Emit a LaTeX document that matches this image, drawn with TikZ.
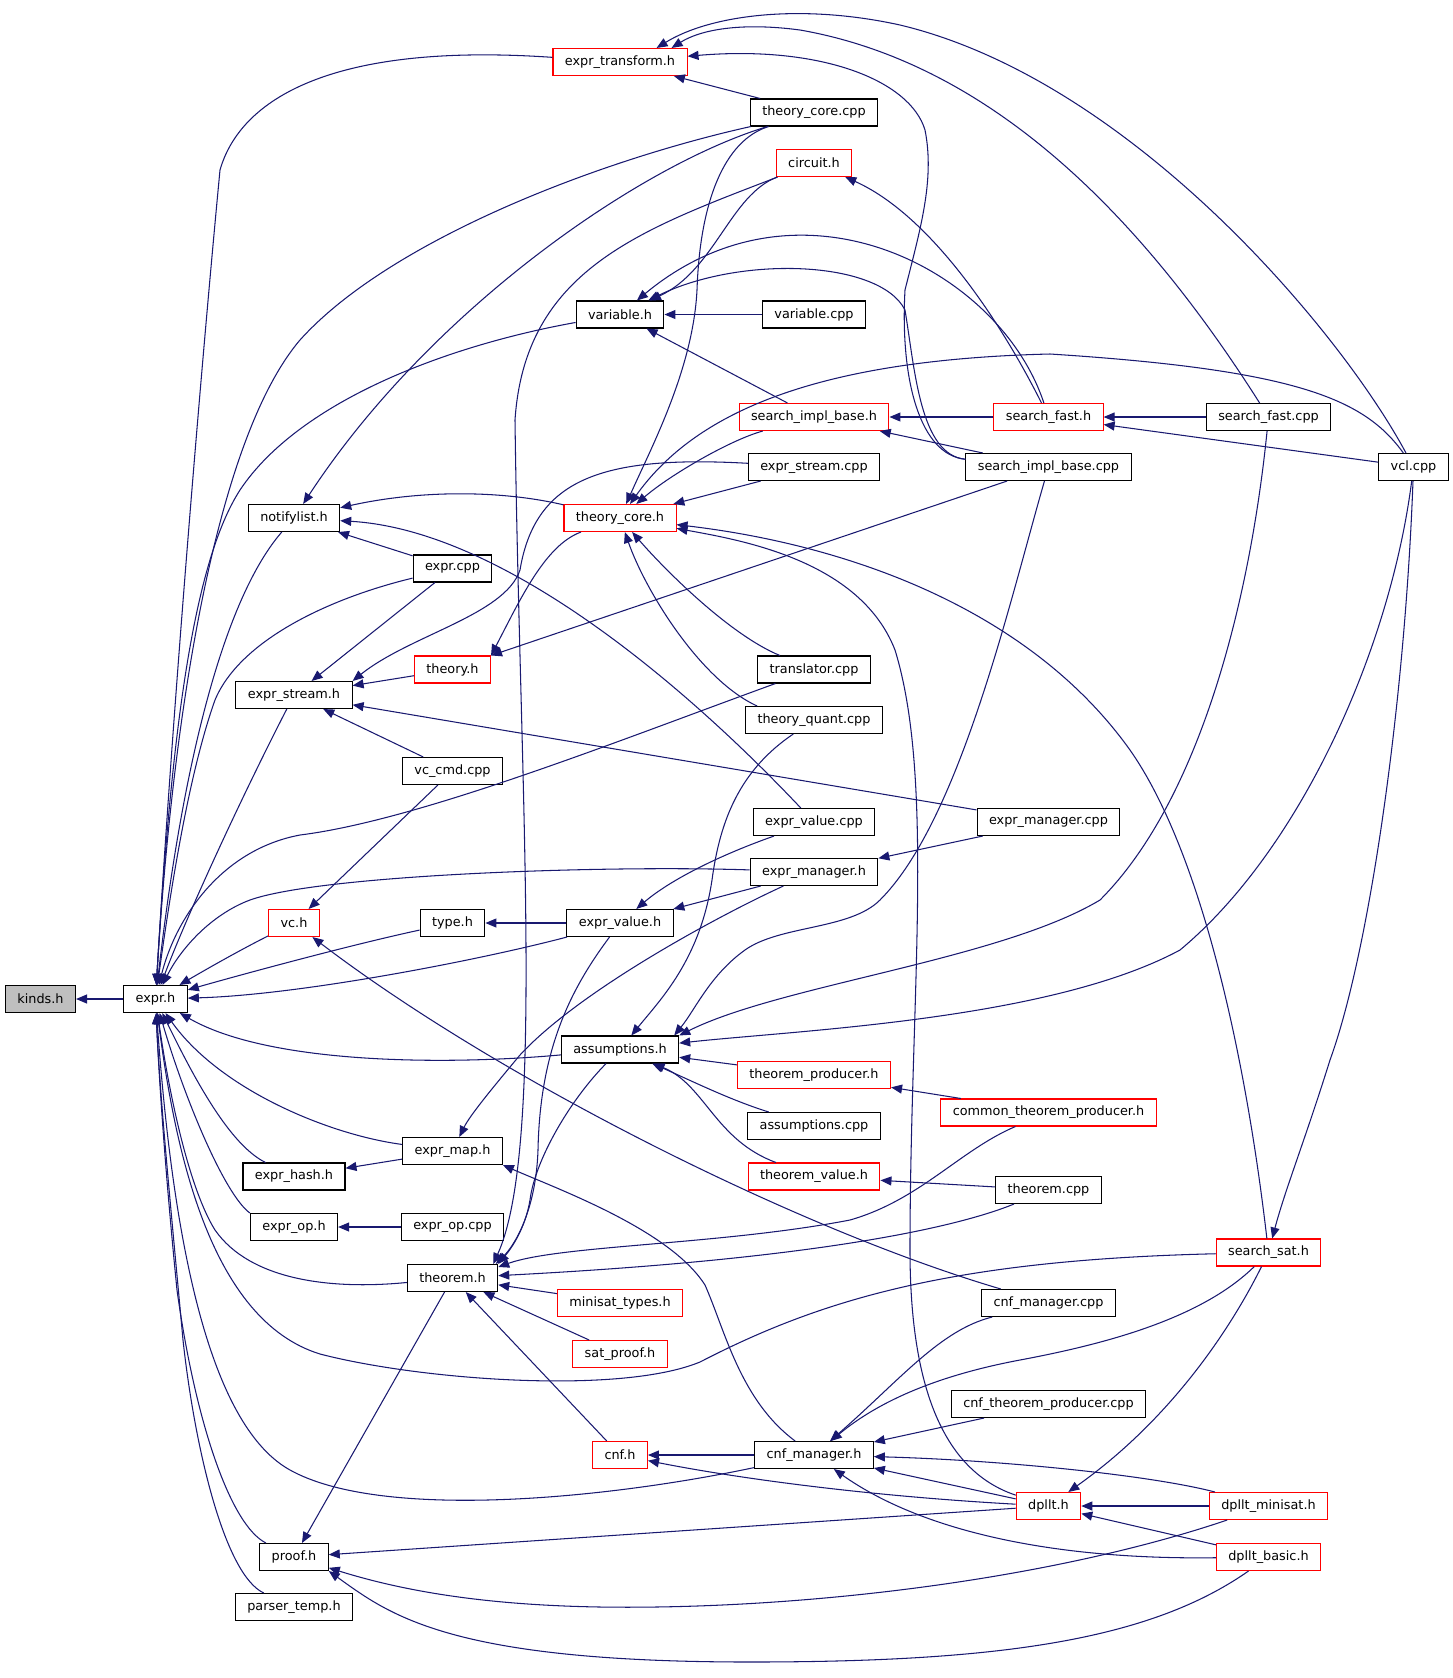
\documentclass[tikz,border=0pt]{standalone}
\usepackage{fontspec}
\newfontfamily\graphfont{DejaVu Sans}
\usetikzlibrary{arrows.meta}
\definecolor{edgeblue}{HTML}{191970}
\definecolor{hdrred}{HTML}{FF0000}
\definecolor{rootgray}{HTML}{BFBFBF}
\begin{document}
\begin{tikzpicture}[x=0.02cm,y=-0.02cm,
  file/.style={draw=black,line width=0.6pt,inner xsep=6.8pt,inner ysep=0pt,minimum height=0.54cm,font=\graphfont\fontsize{7.3}{8.8}\selectfont},
  redfile/.style={file,draw=hdrred},
  rootfile/.style={file,fill=rootgray},
  inc/.style={color=edgeblue,line width=0.6pt,-{Triangle[length=0.22cm,width=0.18cm]}}]
\useasboundingbox (0,0) rectangle (1453,1678);
\node[rootfile] (kinds) at (40.5,999) {kinds.h};
\node[file] (expr) at (155.5,999) {expr.h};
\node[redfile] (exprtrans) at (620,62) {expr\_transform.h};
\node[file] (tccpp) at (814,112.5) {theory\_core.cpp};
\node[redfile] (circuit) at (814,163) {circuit.h};
\node[file] (variable) at (620,314.5) {variable.h};
\node[file] (variablecpp) at (814,314.5) {variable.cpp};
\node[redfile] (sibh) at (814,417) {search\_impl\_base.h};
\node[redfile] (sfh) at (1048.5,417) {search\_fast.h};
\node[file] (sfcpp) at (1268.5,417) {search\_fast.cpp};
\node[file] (escpp) at (814,467) {expr\_stream.cpp};
\node[file] (sibcpp) at (1048.5,467) {search\_impl\_base.cpp};
\node[file] (vcl) at (1413.5,467) {vcl.cpp};
\node[file] (notifylist) at (294,518) {notifylist.h};
\node[redfile] (tch) at (620,518) {theory\_core.h};
\node[file] (exprcpp) at (452.5,568.5) {expr.cpp};
\node[redfile] (theory) at (452.5,669.5) {theory.h};
\node[file] (translator) at (814,669.5) {translator.cpp};
\node[file] (esh) at (294,695) {expr\_stream.h};
\node[file] (tquant) at (814,720) {theory\_quant.cpp};
\node[file] (vccmd) at (452.5,771) {vc\_cmd.cpp};
\node[file] (evcpp) at (814,822) {expr\_value.cpp};
\node[file] (emcpp) at (1048.5,822) {expr\_manager.cpp};
\node[file] (emh) at (814,872) {expr\_manager.h};
\node[redfile] (vch) at (294,923) {vc.h};
\node[file] (typeh) at (452.5,923) {type.h};
\node[file] (evh) at (620,923) {expr\_value.h};
\node[file] (assump) at (620,1049.5) {assumptions.h};
\node[redfile] (tprod) at (814,1075) {theorem\_producer.h};
\node[redfile] (ctprod) at (1048.5,1112.5) {common\_theorem\_producer.h};
\node[file] (assumpcpp) at (814,1126) {assumptions.cpp};
\node[file] (exprmap) at (452.5,1151) {expr\_map.h};
\node[file] (exprhash) at (294,1176.5) {expr\_hash.h};
\node[redfile] (tvalue) at (814,1176.5) {theorem\_value.h};
\node[file] (theoremcpp) at (1048.5,1190) {theorem.cpp};
\node[file] (exprop) at (294,1227) {expr\_op.h};
\node[file] (expropcpp) at (452.5,1227) {expr\_op.cpp};
\node[redfile] (searchsat) at (1268.5,1252.5) {search\_sat.h};
\node[file] (theorem) at (452.5,1278) {theorem.h};
\node[redfile] (minisat) at (620,1303) {minisat\_types.h};
\node[file] (cnfmcpp) at (1048.5,1303) {cnf\_manager.cpp};
\node[redfile] (satproof) at (620,1354) {sat\_proof.h};
\node[file] (cnftpcpp) at (1048.5,1404) {cnf\_theorem\_producer.cpp};
\node[redfile] (cnf) at (620,1455) {cnf.h};
\node[file] (cnfm) at (814,1455) {cnf\_manager.h};
\node[redfile] (dpllt) at (1048.5,1506) {dpllt.h};
\node[redfile] (dplltmin) at (1268.5,1506) {dpllt\_minisat.h};
\node[redfile] (dplltbasic) at (1268.5,1557) {dpllt\_basic.h};
\node[file] (proof) at (294,1557) {proof.h};
\node[file] (parser) at (294,1607) {parser\_temp.h};

\draw[inc] (expr) -- (kinds);
\draw[inc] (exprtrans) .. controls (330,42) and (240,100) .. (220,170) .. controls (200,380) and (172,720) .. (expr);
\draw[inc] (tccpp) -- (exprtrans);
\draw[inc] (tccpp) .. controls (600,160) and (390,240) .. (300,340) .. controls (215,440) and (172,720) .. (expr);
\draw[inc] (tccpp) .. controls (640,165) and (430,310) .. (notifylist);
\draw[inc] (tccpp) .. controls (725,140) and (700,200) .. (697,290) .. controls (693,370) and (650,450) .. (tch);
\draw[inc] (circuit) .. controls (730,195) and (715,270) .. (variable);
\draw[inc] (circuit) .. controls (640,230) and (525,270) .. (515,420) .. controls (520,800) and (545,1150) .. ([xshift=-0.1cm]theorem.north east);
\draw[inc] (sfh) .. controls (1000,320) and (930,215) .. (circuit);
\draw[inc] (variable) .. controls (450,345) and (300,400) .. (240,490) .. controls (195,560) and (172,720) .. (expr);
\draw[inc] (variablecpp) -- (variable);
\draw[inc] (sibh) -- (variable);
\draw[inc] (sfh) .. controls (1000,270) and (800,165) .. (variable);
\draw[inc] (sibcpp) .. controls (920,455) and (915,370) .. (905,310) .. controls (880,260) and (740,255) .. (variable);
\draw[inc] (sibcpp) .. controls (920,455) and (900,380) .. (905,290) .. controls (920,230) and (935,180) .. (925,130) .. controls (910,80) and (820,45) .. (exprtrans);
\draw[inc] (sfcpp) .. controls (1150,230) and (1000,65) .. (800,30) .. controls (740,22) and (700,30) .. ([xshift=-0.32cm]exprtrans.north east);
\draw[inc] (vcl) .. controls (1340,330) and (1130,80) .. (900,25) .. controls (800,3) and (710,15) .. ([xshift=-0.62cm]exprtrans.north east);
\draw[inc] (sfh) -- (sibh);
\draw[inc] (sibcpp) -- (sibh);
\draw[inc] (sfcpp) -- (sfh);
\draw[inc] (vcl) -- (sfh);
\draw[inc] (sibh) .. controls (730,440) and (670,475) .. (tch);
\draw[inc] (vcl) .. controls (1365,400) and (1300,370) .. (1050,354) .. controls (800,360) and (690,420) .. (tch);
\draw[inc] (escpp) -- (tch);
\draw[inc] (escpp) .. controls (600,455) and (535,480) .. (520,570) .. controls (505,615) and (410,635) .. (esh.north east);
\draw[inc] (searchsat) .. controls (1245,1050) and (1200,850) .. (1130,750) .. controls (1030,610) and (850,545) .. (tch);
\draw[inc] (dpllt) .. controls (940,1470) and (910,1380) .. (910,1250) .. controls (910,1000) and (935,780) .. (895,650) .. controls (860,560) and (740,540) .. (tch);
\draw[inc] (translator) .. controls (730,635) and (665,570) .. (tch);
\draw[inc] ([xshift=0.24cm]tquant.north west) .. controls (700,680) and (645,590) .. (tch);
\draw[inc] (tch) .. controls (545,545) and (520,600) .. (theory.north east);
\draw[inc] (sibcpp) -- (theory.north east);
\draw[inc] (tch) .. controls (500,490) and (420,490) .. (notifylist);
\draw[inc] (evcpp) .. controls (680,680) and (500,530) .. (notifylist);
\draw[inc] (exprcpp) -- (notifylist);
\draw[inc] (notifylist) .. controls (240,580) and (190,700) .. (expr);
\draw[inc] (exprcpp) .. controls (330,598) and (240,640) .. (215,700) .. controls (190,770) and (172,880) .. (expr);
\draw[inc] (exprcpp) -- (esh);
\draw[inc] (theory) -- (esh);
\draw[inc] (vccmd) -- (esh);
\draw[inc] (emcpp) -- (esh);
\draw[inc] (esh) .. controls (240,800) and (185,920) .. (expr);
\draw[inc] (vccmd) -- (vch);
\draw[inc] (cnfmcpp) .. controls (800,1230) and (500,1080) .. (vch);
\draw[inc] (vch) .. controls (240,950) and (205,970) .. (expr);
\draw[inc] (typeh) .. controls (350,945) and (240,975) .. (expr);
\draw[inc] (evh) -- (typeh);
\draw[inc] (evh) .. controls (480,960) and (300,995) .. (expr);
\draw[inc] (emh) .. controls (600,865) and (320,875) .. (250,900) .. controls (210,915) and (180,950) .. (expr);
\draw[inc] (translator) .. controls (620,740) and (420,820) .. (300,835) .. controls (220,850) and (175,920) .. (expr);
\draw[inc] (evcpp) .. controls (720,855) and (670,880) .. (evh);
\draw[inc] (emh) -- (evh);
\draw[inc] (emcpp) -- (emh);
\draw[inc] (emh) .. controls (720,915) and (580,990) .. (520,1055) .. controls (495,1085) and (470,1115) .. (exprmap);
\draw[inc] (assump) .. controls (450,1065) and (270,1065) .. (expr);
\draw[inc] (tquant) .. controls (740,770) and (720,820) .. (712,880) .. controls (700,960) and (660,1000) .. (assump);
\draw[inc] (sibcpp) .. controls (1010,600) and (960,820) .. (880,900) .. controls (850,930) and (780,925) .. (745,950) .. controls (710,975) and (695,1010) .. ([xshift=-0.1cm]assump.north east);
\draw[inc] (sfcpp) .. controls (1250,600) and (1200,800) .. (1100,900) .. controls (1000,960) and (780,985) .. (assump.north east);
\draw[inc] (vcl) .. controls (1390,650) and (1300,850) .. (1180,950) .. controls (1050,1020) and (800,1030) .. (assump);
\draw[inc] (tprod) -- (assump);
\draw[inc] (assumpcpp) .. controls (730,1100) and (690,1080) .. (assump);
\draw[inc] (tvalue) .. controls (715,1140) and (705,1085) .. (assump);
\draw[inc] (ctprod) -- (tprod);
\draw[inc] (theoremcpp) -- (tvalue);
\draw[inc] (assump) .. controls (570,1100) and (535,1160) .. (530,1200) .. controls (525,1230) and (510,1250) .. (theorem.north east);
\draw[inc] (evh) .. controls (570,990) and (540,1050) .. (538,1150) .. controls (536,1210) and (515,1245) .. ([xshift=-0.05cm]theorem.north east);
\draw[inc] (ctprod) .. controls (960,1150) and (920,1200) .. (850,1220) .. controls (720,1245) and (560,1245) .. ([yshift=-0.06cm]theorem.north east);
\draw[inc] (theoremcpp) .. controls (950,1230) and (800,1260) .. (theorem);
\draw[inc] (minisat) -- (theorem);
\draw[inc] (satproof) -- (theorem);
\draw[inc] (cnf) -- (theorem);
\draw[inc] (theorem) .. controls (330,1290) and (250,1280) .. (215,1230) .. controls (190,1190) and (170,1100) .. (expr);
\draw[inc] (theorem) -- (proof);
\draw[inc] (searchsat) .. controls (950,1260) and (820,1300) .. (700,1362) .. controls (620,1395) and (420,1380) .. (320,1354) .. controls (210,1320) and (175,1150) .. (expr);
\draw[inc] (exprmap) .. controls (330,1135) and (220,1090) .. (expr);
\draw[inc] (exprmap) -- (exprhash);
\draw[inc] (exprhash) .. controls (230,1145) and (195,1080) .. (expr);
\draw[inc] (exprop.north west) .. controls (225,1195) and (185,1100) .. (expr);
\draw[inc] (expropcpp) -- (exprop);
\draw[inc] (cnfm) .. controls (740,1400) and (725,1330) .. (705,1285) .. controls (670,1230) and (560,1190) .. (exprmap.south east);
\draw[inc] (cnfm) .. controls (600,1500) and (380,1520) .. (290,1470) .. controls (200,1420) and (170,1200) .. (expr);
\draw[inc] (cnfm) -- (cnf);
\draw[inc] (dpllt) .. controls (850,1495) and (720,1475) .. (cnf);
\draw[inc] (cnftpcpp) -- (cnfm);
\draw[inc] (dplltmin) .. controls (1150,1475) and (1000,1460) .. (cnfm);
\draw[inc] (dpllt) -- (cnfm);
\draw[inc] (dplltbasic) .. controls (1050,1560) and (920,1530) .. (cnfm);
\draw[inc] (cnfmcpp) .. controls (940,1330) and (900,1380) .. (cnfm);
\draw[inc] (searchsat) .. controls (1200,1320) and (1100,1345) .. (1020,1360) .. controls (940,1375) and (880,1400) .. (cnfm);
\draw[inc] (vcl) .. controls (1405,700) and (1370,950) .. (1330,1060) .. controls (1305,1140) and (1285,1190) .. (searchsat);
\draw[inc] (searchsat) .. controls (1230,1330) and (1170,1420) .. (dpllt);
\draw[inc] (dplltmin) -- (dpllt);
\draw[inc] (dplltbasic) -- (dpllt);
\draw[inc] (dpllt) -- (proof);
\draw[inc] (dplltmin) .. controls (1050,1580) and (800,1610) .. (600,1607) .. controls (480,1605) and (400,1590) .. (proof);
\draw[inc] (dplltbasic) .. controls (1150,1640) and (1000,1662) .. (750,1662) .. controls (450,1662) and (390,1615) .. (proof.south east);
\draw[inc] (proof) .. controls (230,1525) and (195,1420) .. (177,1290) .. controls (168,1200) and (160,1100) .. (expr);
\draw[inc] (parser) .. controls (225,1575) and (195,1450) .. (183,1340) .. controls (172,1220) and (160,1100) .. (expr);
\end{tikzpicture}
\end{document}
